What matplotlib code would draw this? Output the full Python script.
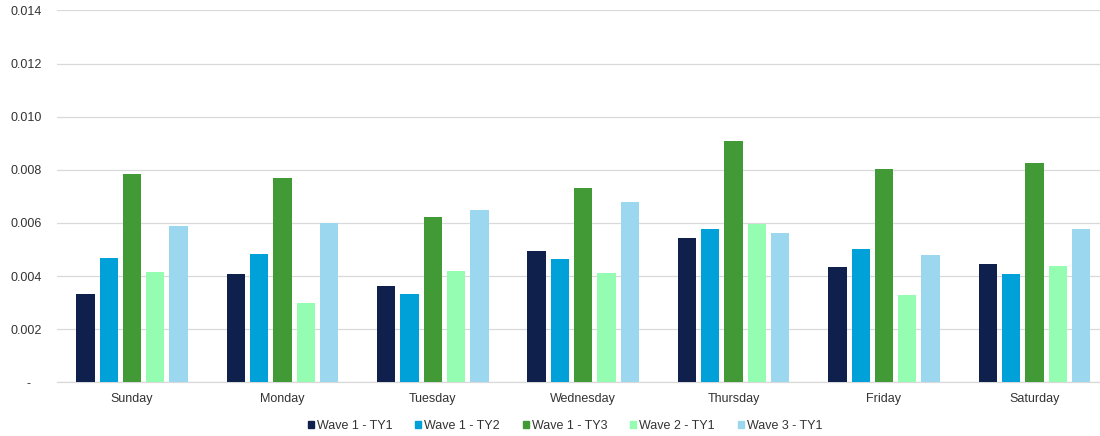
import matplotlib
matplotlib.use("Agg")
import matplotlib.pyplot as plt
import numpy as np
from matplotlib.patches import Rectangle
from matplotlib.transforms import ScaledTranslation

plt.rcParams['font.family'] = ['Liberation Sans', 'DejaVu Sans']

days = ["Sunday", "Monday", "Tuesday", "Wednesday", "Thursday", "Friday", "Saturday"]
series_names = ["Wave 1 - TY1", "Wave 1 - TY2", "Wave 1 - TY3", "Wave 2 - TY1", "Wave 3 - TY1"]

wave1_ty1 = [0.00334, 0.00406, 0.00362, 0.00496, 0.00543, 0.00434, 0.00444]
wave1_ty2 = [0.00468, 0.00483, 0.00333, 0.00463, 0.00578, 0.00502, 0.00406]
wave1_ty3 = [0.00785, 0.00771, 0.00623, 0.00730, 0.00907, 0.00804, 0.00824]
wave2_ty1 = [0.00414, 0.00300, 0.00418, 0.00411, 0.00597, 0.00329, 0.00438]
wave3_ty1 = [0.00587, 0.00599, 0.00647, 0.00678, 0.00561, 0.00478, 0.00576]

y_ticks = [0, 0.002, 0.004, 0.006, 0.008, 0.010, 0.012, 0.014]
y_tick_labels = ["-", "0.002", "0.004", "0.006", "0.008", "0.010", "0.012", "0.014"]

colors = ["#10204C", "#00A0D9", "#429A37", "#95FDB1", "#9BD8EF"]
text_color = "#333333"
grid_color = "#D9D9D9"

W, H = 1100, 436
fig = plt.figure(figsize=(W / 100, H / 100), dpi=100)
left, right = 56.8, 1109.6
bottom, top = 382.3, 10.5
ax = fig.add_axes([left / W, 1 - bottom / H, (right - left) / W, (bottom - top) / H])

x = np.arange(len(days))
pitch = 0.155
width = 0.122
all_series = [wave1_ty1, wave1_ty2, wave1_ty3, wave2_ty1, wave3_ty1]
for j, (vals, c, name) in enumerate(zip(all_series, colors, series_names)):
    ax.bar(x + (j - 2) * pitch, vals, width=width, color=c, label=name, zorder=3)

ax.set_xlim(-0.5, len(days) - 0.5)
ax.set_ylim(0, 0.014)
ax.set_yticks(y_ticks)
ax.set_yticklabels(y_tick_labels)
ax.set_xticks(x)
ax.set_xticklabels(days)

ax.yaxis.grid(True, color=grid_color, linewidth=0.9, zorder=0)
ax.set_axisbelow(True)
for s in ["top", "right", "left"]:
    ax.spines[s].set_visible(False)
ax.spines["bottom"].set_color(grid_color)
ax.spines["bottom"].set_linewidth(0.9)
ax.tick_params(axis="both", length=0, labelsize=9, colors=text_color)
ax.tick_params(axis="y", pad=11)
ax.tick_params(axis="x", pad=8)

# accounting-style zero label sits left of the other numbers
zero_label = ax.get_yticklabels()[0]
zero_label.set_transform(zero_label.get_transform() + ScaledTranslation(-11 / 100, 0, fig.dpi_scale_trans))

handles = [Rectangle((0, 0), 1, 1, color=c) for c in colors]
fig.legend(handles, series_names, loc="center", bbox_to_anchor=(565 / W, 1 - 426 / H),
           ncol=5, frameon=False, fontsize=9, handlelength=0.5, handleheight=0.5,
           handletextpad=0.25, columnspacing=1.8, labelcolor=text_color)

fig.savefig("out.png", dpi=100)
